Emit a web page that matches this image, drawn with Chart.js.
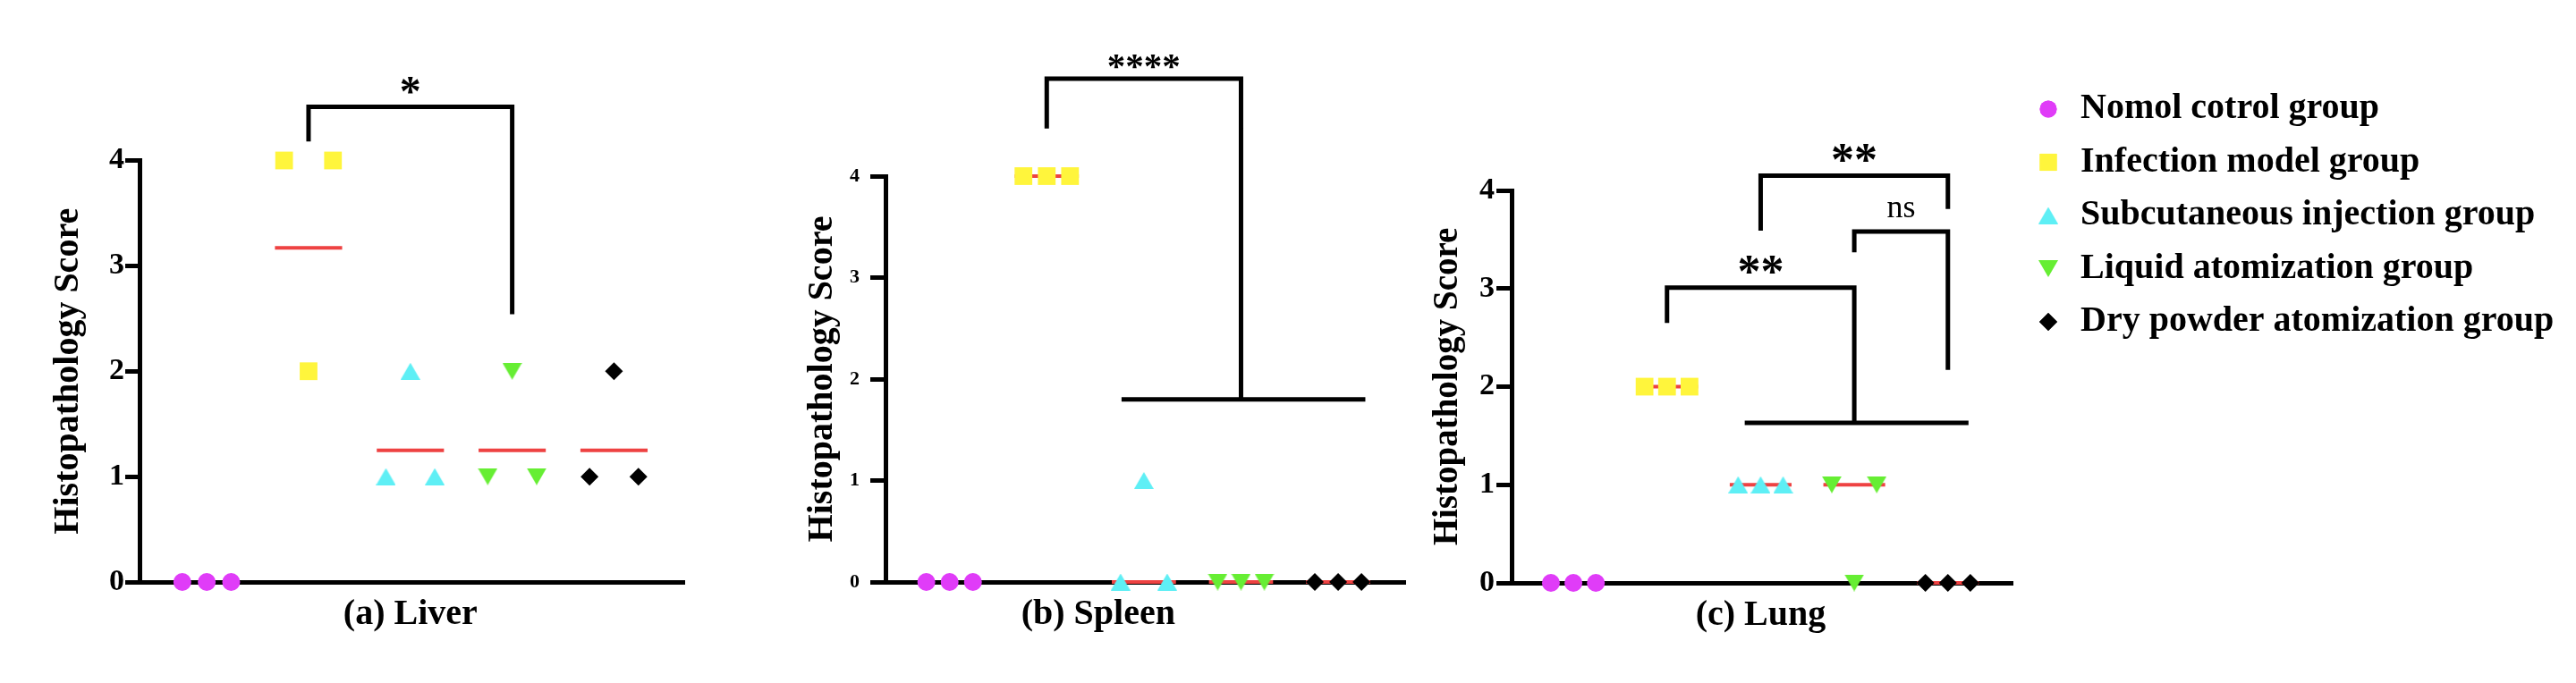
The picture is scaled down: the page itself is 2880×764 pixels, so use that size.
<!DOCTYPE html>
<html><head><meta charset="utf-8">
<script src="https://cdn.jsdelivr.net/npm/chart.js@4.4.1/dist/chart.umd.min.js"></script>
<style>
html,body{margin:0;padding:0;background:#fff;}
#wrap{position:relative;width:2880px;height:764px;overflow:hidden;background:#fff;}
#wrap canvas{position:absolute;left:0;top:0;}
</style></head><body>
<div id="wrap">
<canvas id="cA" width="2880" height="764"></canvas>
<canvas id="cB" width="2880" height="764"></canvas>
<canvas id="cC" width="2880" height="764"></canvas>
</div>
<script>
// ---------------- data ----------------
const groupNames = ['Nomol cotrol group', 'Infection model group', 'Subcutaneous injection group', 'Liquid atomization group', 'Dry powder atomization group'];
const panelTitles = ['(a) Liver', '(b) Spleen', '(c) Lung'];
const yAxisTitle = 'Histopathology Score';
const yTickValues = [0, 1, 2, 3, 4];

// individual scores per group (3 animals each)
const liverScores  = [[0, 0, 0], [4, 2, 4], [1, 2, 1], [1, 2, 1], [1, 2, 1]];
const spleenScores = [[0, 0, 0], [4, 4, 4], [0, 1, 0], [0, 0, 0], [0, 0, 0]];
const lungScores   = [[0, 0, 0], [2, 2, 2], [1, 1, 1], [1, 0, 1], [0, 0, 0]];

// red centre lines (control line not visible)
const liverCenters  = [null, 3.17, 1.25, 1.25, 1.25];
const spleenCenters = [null, 4, 0, 0, 0];
const lungCenters   = [null, 2, 1, 1, 0];

// significance brackets: [left group, right group, left leg end, top, right leg end, label]
const liverBrackets  = [[1, 3, 4.18, 4.51, 2.54, '*']];
const spleenBrackets = [[1, 3, 4.47, 4.96, 1.80, '****']];
const lungBrackets   = [[1, 3, 2.65, 3.01, 1.63, '**'], [2, 4, 3.59, 4.15, 3.81, '**'], [3, 4, 3.37, 3.58, 2.17, 'ns']];
// combined-group bars: [from, to, value]
const liverBars  = [];
const spleenBars = [[1.77, 4.28, 1.80]];
const lungBars   = [[1.83, 4.22, 1.63]];

// ---------------- styles ----------------
const FONT = '"Liberation Serif", "Times New Roman", Times, serif';
Chart.defaults.font.family = FONT;

function triangleImage(color, down) {
  const w = 22, h = 19, c = document.createElement('canvas');
  c.width = w; c.height = h;
  const x = c.getContext('2d');
  x.fillStyle = color; x.beginPath();
  if (down) { x.moveTo(0, 0); x.lineTo(w, 0); x.lineTo(w / 2, h); }
  else { x.moveTo(w / 2, 0); x.lineTo(w, h); x.lineTo(0, h); }
  x.closePath(); x.fill();
  return c;
}

const groupStyles = [
  {color: '#E03CF8', style: 'circle',  r: 10, lr: 9.5},
  {color: '#FFF53C', style: 'rect',    r: 14, lr: 13.5},
  {color: '#5EEFF5', style: triangleImage('#5EEFF5', false), r: 11, lr: 11},
  {color: '#66EE33', style: triangleImage('#66EE33', true),  r: 11, lr: 11},
  {color: '#000000', style: 'rectRot', r: 10, lr: 10}
];
const RED = '#EE4242';
const JIT = 0.24;
const Y_W = 100;

const panelLayout = [
  {id: 'cA', left: 156,  top: 179.5, right: 765,  bottom: 651, tickFont: 34, tickPad: 1,  tickLen: 16, yTitleGap: 69, xTitleAt: 2.0,  starFont: 48, yTitleFont: 40},
  {id: 'cB', left: 990,  top: 197,   right: 1571, bottom: 651, tickFont: 22, tickPad: 12, tickLen: 17, yTitleGap: 60, xTitleAt: 1.53, starFont: 41, yTitleFont: 40},
  {id: 'cC', left: 1690, top: 213,   right: 2250, bottom: 652, tickFont: 34, tickPad: 2,  tickLen: 17, yTitleGap: 61, xTitleAt: 2.0,  starFont: 52, yTitleFont: 39}
];

// column-scatter spreading of equal values (left / centre / right slots)
function spread(vals) {
  const counts = {}, seen = {};
  vals.forEach(v => counts[v] = (counts[v] || 0) + 1);
  return vals.map(v => {
    const n = counts[v], k = seen[v] = (seen[v] === undefined ? 0 : seen[v] + 1);
    let dx = 0;
    if (n === 2) dx = k === 0 ? -JIT : JIT;
    else if (n >= 3) dx = (k - (n - 1) / 2) * JIT;
    return {dx, y: v};
  });
}

const decor = {
  id: 'decor',
  afterDraw(chart, args, o) {
    const ctx = chart.ctx, xs = chart.scales.x, ys = chart.scales.y, ca = chart.chartArea, L = o.L;
    ctx.save();
    ctx.strokeStyle = '#000'; ctx.fillStyle = '#000';
    ctx.lineWidth = 5; ctx.lineJoin = 'miter'; ctx.lineCap = 'butt';
    for (const [g1, g2, l, t, r, label] of o.brackets) {
      const x1 = xs.getPixelForValue(g1), x2 = xs.getPixelForValue(g2);
      const yl = ys.getPixelForValue(l), yt = ys.getPixelForValue(t), yr = ys.getPixelForValue(r);
      ctx.beginPath(); ctx.moveTo(x1, yl); ctx.lineTo(x1, yt); ctx.lineTo(x2, yt); ctx.lineTo(x2, yr); ctx.stroke();
      const ns = label === 'ns';
      ctx.font = ns ? `normal 36px ${FONT}` : `bold ${L.starFont}px ${FONT}`;
      ctx.textAlign = 'center'; ctx.textBaseline = 'alphabetic';
      ctx.fillText(label, (x1 + x2) / 2, ns ? yt - 16 : yt - 1);
    }
    for (const [a, b, v] of o.bars) {
      const y = ys.getPixelForValue(v);
      ctx.beginPath(); ctx.moveTo(xs.getPixelForValue(a), y); ctx.lineTo(xs.getPixelForValue(b), y); ctx.stroke();
    }
    // axis titles
    ctx.font = `bold 40px ${FONT}`;
    ctx.textAlign = 'center'; ctx.textBaseline = 'alphabetic';
    ctx.fillText(o.title, xs.getPixelForValue(L.xTitleAt), ca.bottom + 47);
    ctx.save();
    ctx.font = `bold ${L.yTitleFont}px ${FONT}`;
    ctx.translate(ca.left - L.yTitleGap, (ca.top + ca.bottom) / 2);
    ctx.rotate(-Math.PI / 2);
    ctx.fillText(yAxisTitle, 0, 0);
    ctx.restore();
    // legend
    if (o.legend) {
      ctx.font = `bold 40px ${FONT}`;
      ctx.textAlign = 'left'; ctx.textBaseline = 'middle';
      groupNames.forEach((name, i) => {
        const st = groupStyles[i], y = 122 + i * 59.5, mx = 2290;
        if (typeof st.style === 'string') {
          ctx.beginPath();
          ctx.fillStyle = st.color;
          Chart.helpers.drawPoint(ctx, {pointStyle: st.style, rotation: 0, radius: st.lr, borderWidth: 0}, mx, y);
          ctx.fill();
        } else {
          ctx.drawImage(st.style, mx - st.style.width / 2, y - st.style.height / 2);
        }
        ctx.fillStyle = '#000';
        ctx.fillText(name, 2326, y);
      });
    }
    ctx.restore();
  }
};

function makePanel(L, scores, centers, brackets, bars, title, legend) {
  const datasets = scores.map((vals, g) => {
    const st = groupStyles[g];
    return {
      label: groupNames[g],
      data: spread(vals).map(p => ({x: g + p.dx, y: p.y})),
      showLine: false,
      pointStyle: st.style, pointRadius: st.r,
      pointBackgroundColor: st.color, pointBorderColor: st.color, pointBorderWidth: 0,
      backgroundColor: st.color, borderColor: st.color,
      clip: false, order: 0
    };
  });
  const lineData = [];
  centers.forEach((c, g) => {
    if (c === null) return;
    lineData.push({x: g - 0.33, y: c}, {x: g + 0.33, y: c}, {x: g + 0.5, y: null});
  });
  datasets.push({label: 'centre', data: lineData, showLine: true, borderColor: RED, borderWidth: 4,
    pointRadius: 0, pointHoverRadius: 0, spanGaps: false, clip: false, order: 1});

  return new Chart(document.getElementById(L.id), {
    type: 'scatter',
    data: {datasets},
    plugins: [decor],
    options: {
      responsive: false, animation: false, events: [], devicePixelRatio: 1,
      layout: {padding: {left: L.left - Y_W, right: 2880 - L.right, top: L.top, bottom: 0}},
      plugins: {legend: {display: false}, tooltip: {enabled: false},
        decor: {L, brackets, bars, title, legend}},
      scales: {
        x: {type: 'linear', min: -0.66, max: 4.69,
          ticks: {display: false}, grid: {display: false},
          border: {display: true, width: 5, color: '#000'},
          afterFit: s => { s.height = 764 - L.bottom; }},
        y: {type: 'linear', min: 0, max: 4,
          afterBuildTicks: s => { s.ticks = yTickValues.map(v => ({value: v})); },
          ticks: {color: '#000', font: {family: FONT, size: L.tickFont, weight: 'bold'}, padding: L.tickPad},
          grid: {display: true, drawOnChartArea: false, drawTicks: true, tickLength: L.tickLen,
            tickWidth: 5, tickColor: '#000', color: '#000', lineWidth: 5},
          border: {display: true, width: 5, color: '#000'},
          afterFit: s => { s.width = Y_W; }}
      }
    }
  });
}

makePanel(panelLayout[0], liverScores, liverCenters, liverBrackets, liverBars, panelTitles[0], false);
makePanel(panelLayout[1], spleenScores, spleenCenters, spleenBrackets, spleenBars, panelTitles[1], false);
makePanel(panelLayout[2], lungScores, lungCenters, lungBrackets, lungBars, panelTitles[2], true);
</script>
</body></html>
